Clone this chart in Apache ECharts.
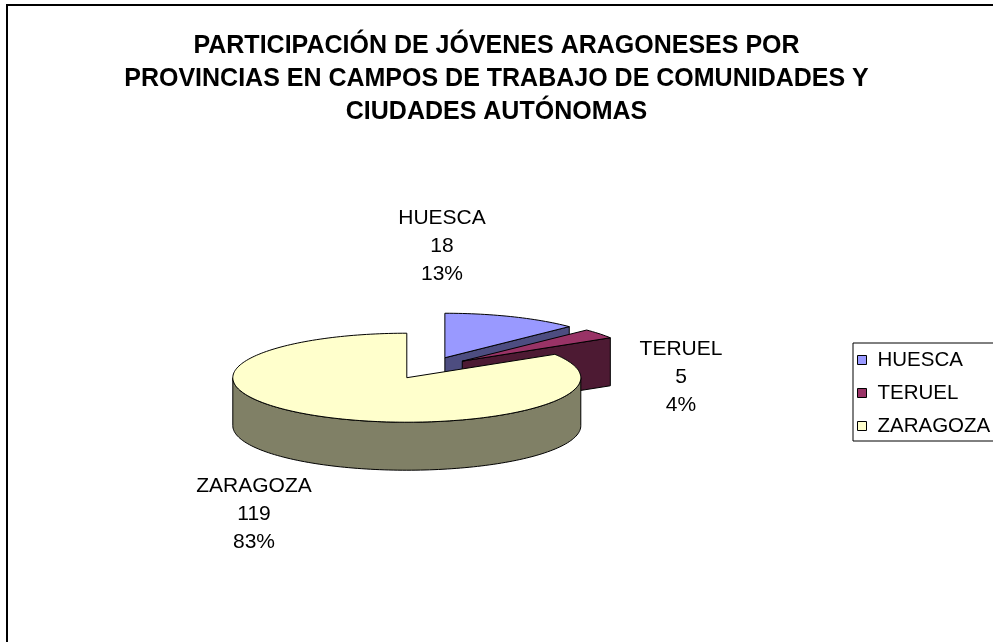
<!DOCTYPE html>
<html>
<head>
<meta charset="utf-8">
<title>Participación de jóvenes aragoneses</title>
<script src="https://cdn.jsdelivr.net/npm/echarts@6/dist/echarts.min.js"></script>
<style>
  html, body { margin: 0; padding: 0; background: #fff; }
  #chart { width: 993px; height: 642px; }
</style>
</head>
<body>
<div id="chart"></div>
<script>
// Datos
const provincias = ['HUESCA', 'TERUEL', 'ZARAGOZA'];
const participantes = [18, 5, 119];
const porcentajes = ['13%', '4%', '83%'];
const tituloLineas = [
  'PARTICIPACIÓN DE JÓVENES ARAGONESES POR',
  'PROVINCIAS EN CAMPOS DE TRABAJO DE COMUNIDADES Y',
  'CIUDADES AUTÓNOMAS'
];

// Estilo
const FONT = '"Liberation Sans", Arial, Helvetica, sans-serif';
const coloresCara = ['#9999FF', '#993366', '#FFFFCC'];
const coloresLado = ['#4D4D80', '#4D1A33', '#808066'];

// Geometría de la tarta en perspectiva
const CX = 428, CY = 368;      // centro de la elipse superior
const RX = 174, RY = 44.5;     // semiejes
const PROF = 48;               // grosor del cilindro
const SEPARACION = 0.25;       // desplazamiento de cada porción (fracción del radio)
const posEtiquetas = [[442, 246], [681, 377], [254, 514]];

const total = participantes.reduce((a, b) => a + b, 0);

// Punto de la elipse para un ángulo medido en sentido horario desde las 12
function punto(cx, cy, grados, r) {
  const t = grados * Math.PI / 180;
  return [cx + RX * r * Math.sin(t), cy - RY * r * Math.cos(t)];
}

function arco(cx, cy, desde, hasta) {
  const n = Math.max(2, Math.ceil(Math.abs(hasta - desde) / 1.5));
  const pts = [];
  for (let k = 0; k <= n; k++) {
    pts.push(punto(cx, cy, desde + (hasta - desde) * k / n, 1));
  }
  return pts;
}

function dibujarPorcion(idx) {
  return function (params, api) {
    const valor = api.value(0);
    let previo = 0;
    for (let i = 0; i < idx; i++) previo += participantes[i];
    const a0 = previo / total * 360;
    const a1 = (previo + valor) / total * 360;
    const medio = (a0 + a1) / 2;
    const d = punto(0, 0, medio, SEPARACION);
    const cx = CX + d[0], cy = CY + d[1];
    const lado = { fill: coloresLado[idx], stroke: '#000', lineWidth: 1 };
    const hijos = [];

    // Caras radiales orientadas hacia el observador
    const caraRadial = (ang) => {
      const p = punto(cx, cy, ang, 1);
      hijos.push({
        type: 'polygon',
        shape: { points: [[cx, cy], p, [p[0], p[1] + PROF], [cx, cy + PROF]] },
        style: lado
      });
    };
    if (Math.sin(a0 * Math.PI / 180) < -1e-6) caraRadial(a0);
    if (Math.sin(a1 * Math.PI / 180) > 1e-6) caraRadial(a1);

    // Pared exterior visible (entre las 3 y las 9 pasando por las 6)
    const w0 = Math.max(a0, 90), w1 = Math.min(a1, 270);
    if (w1 > w0) {
      const sup = arco(cx, cy, w0, w1);
      const inf = arco(cx, cy + PROF, w1, w0);
      hijos.push({
        type: 'polygon',
        shape: { points: sup.concat(inf) },
        style: lado
      });
    }

    // Cara superior
    hijos.push({
      type: 'polygon',
      shape: { points: [[cx, cy]].concat(arco(cx, cy, a0, a1)) },
      style: { fill: coloresCara[idx], stroke: '#000', lineWidth: 1 }
    });

    // Etiqueta de datos
    hijos.push({
      type: 'text',
      x: posEtiquetas[idx][0],
      y: posEtiquetas[idx][1],
      style: {
        text: provincias[idx] + '\n' + valor + '\n' + porcentajes[idx],
        fill: '#000',
        fontSize: 21,
        fontFamily: FONT,
        lineHeight: 28,
        align: 'center',
        verticalAlign: 'middle'
      }
    });

    return { type: 'group', children: hijos };
  };
}

const chart = echarts.init(document.getElementById('chart'), null, { renderer: 'canvas' });

chart.setOption({
  animation: false,
  backgroundColor: '#fff',
  title: {
    text: tituloLineas.join('\n'),
    left: 'center',
    top: 25,
    textStyle: {
      fontFamily: FONT,
      fontSize: 25,
      fontWeight: 'bold',
      color: '#000',
      lineHeight: 33
    }
  },
  legend: {
    orient: 'vertical',
    left: 853,
    top: 343,
    data: provincias,
    icon: 'rect',
    itemWidth: 9,
    itemHeight: 9,
    itemGap: 11,
    padding: [6, 4, 4, 4],
    borderColor: '#000',
    borderWidth: 1,
    selectedMode: false,
    itemStyle: { borderColor: '#000', borderWidth: 1 },
    textStyle: { fontFamily: FONT, fontSize: 20.5, color: '#000', lineHeight: 22, padding: [0, 0, 0, 6] }
  },
  graphic: [{
    type: 'rect',
    x: 7, y: 5,
    shape: { x: 0, y: 0, width: 1200, height: 900 },
    style: { fill: 'none', stroke: '#000', lineWidth: 2 },
    silent: true
  }],
  series: provincias.map((nombre, i) => ({
    type: 'custom',
    name: nombre,
    coordinateSystem: 'none',
    itemStyle: { color: coloresCara[i] },
    data: [[participantes[i]]],
    renderItem: dibujarPorcion(i)
  }))
});
</script>
</body>
</html>
